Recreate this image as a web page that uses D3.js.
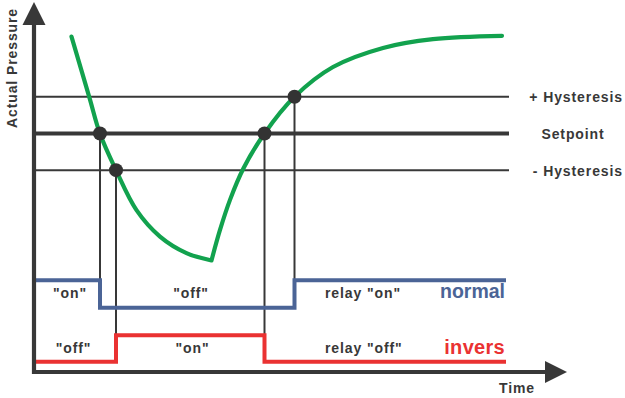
<!DOCTYPE html>
<html>
<head>
<meta charset="utf-8">
<script src="https://cdn.jsdelivr.net/npm/d3@7"></script>
<style>
  html, body { margin: 0; padding: 0; background: #fff; }
  svg { display: block; }
  text { font-family: "Liberation Sans", Arial, Helvetica, sans-serif; font-weight: bold; }
</style>
</head>
<body>
<div id="chart"></div>
<script>
// ---------- data ----------
const setpoint = 6.5;
const hysteresis = 1.0;
const refLevels = [setpoint + hysteresis, setpoint, setpoint - hysteresis];
const refLabels = ["+ Hysteresis", "Setpoint", "- Hysteresis"];

// actual pressure curve (time, pressure), falling part and rising part
const fallTime = [7.5, 11.1, 13.2, 16.4, 20.5, 25.2, 30.5, 35.5];
const fallPressure = [9.14, 7.47, 6.49, 5.50, 4.41, 3.69, 3.24, 3.04];
const riseTime = [35.5, 37.2, 39.2, 41.9, 46.1, 52.1, 59.8, 69.8, 79.8, 93.6];
const risePressure = [3.04, 3.87, 4.69, 5.55, 6.50, 7.50, 8.31, 8.83, 9.07, 9.16];

// switching points (curve crossing the thresholds)
const crossTime = [13.2, 16.4, 46.1, 52.1];
const crossPressure = [6.5, 5.5, 6.5, 7.5];

// relay outputs
const relayEndTime = 94.4;
const normalSwitchTime = [0, 13.2, 52.1];
const normalState = [1, 0, 1];
const inversSwitchTime = [0, 16.4, 46.1];
const inversState = [0, 1, 0];
const normalLevels = [1.75, 2.5];   // off, on
const inversLevels = [0.28, 1.0];   // off, on

// state labels
const normalLabelText = ['"on"', '"off"', 'relay "on"'];
const normalLabelTime = [7.2, 31.4, 58.2];
const inversLabelText = ['"off"', '"on"', 'relay "off"'];
const inversLabelTime = [7.9, 31.7, 58.2];

// ---------- drawing ----------
const W = 625, H = 398;
const dark = "#383838";
const green = "#12a24e";
const blue = "#4b6496";
const red = "#ea3232";

const svg = d3.select("#chart").append("svg").attr("width", W).attr("height", H);
const x = d3.scaleLinear().domain([0, 100]).range([34, 534]);
const y = d3.scaleLinear().domain([0, 10]).range([372, 5]);

// reference lines
const refEnd = 95;
svg.selectAll("line.ref").data(refLevels).join("line")
  .attr("class", "ref")
  .attr("x1", x(0)).attr("x2", x(refEnd))
  .attr("y1", d => y(d)).attr("y2", d => y(d))
  .attr("stroke", dark)
  .attr("stroke-width", (d, i) => i === 1 ? 4 : 2);

// vertical guide lines from crossing points down to relay step
const guideBottom = [normalLevels[1], inversLevels[1], inversLevels[1], normalLevels[1]];
svg.selectAll("line.guide").data(crossTime).join("line")
  .attr("class", "guide")
  .attr("x1", d => x(d)).attr("x2", d => x(d))
  .attr("y1", (d, i) => y(crossPressure[i]))
  .attr("y2", (d, i) => y(guideBottom[i]))
  .attr("stroke", dark).attr("stroke-width", 2);

// relay lines
function stepData(times, states, levels) {
  const pts = times.map((t, i) => [t, levels[states[i]]]);
  pts.push([relayEndTime, levels[states[states.length - 1]]]);
  return pts;
}
const stepLine = d3.line().x(d => x(d[0])).y(d => y(d[1])).curve(d3.curveStepAfter);
svg.append("path")
  .attr("d", stepLine(stepData(normalSwitchTime, normalState, normalLevels)))
  .attr("fill", "none").attr("stroke", blue).attr("stroke-width", 4);
svg.append("path")
  .attr("d", stepLine(stepData(inversSwitchTime, inversState, inversLevels)))
  .attr("fill", "none").attr("stroke", red).attr("stroke-width", 4);

// pressure curve
const curveLine = d3.line().x(d => x(d[0])).y(d => y(d[1])).curve(d3.curveCatmullRom.alpha(0.5));
const fallPts = fallTime.map((t, i) => [t, fallPressure[i]]);
const risePts = riseTime.map((t, i) => [t, risePressure[i]]);
svg.append("path")
  .attr("d", curveLine(fallPts) + curveLine(risePts))
  .attr("fill", "none").attr("stroke", green).attr("stroke-width", 4.2)
  .attr("stroke-linecap", "round").attr("stroke-linejoin", "round");

// crossing dots
svg.selectAll("circle.cross").data(crossTime).join("circle")
  .attr("class", "cross")
  .attr("cx", d => x(d)).attr("cy", (d, i) => y(crossPressure[i]))
  .attr("r", 7).attr("fill", "#333");

// axes
svg.append("line").attr("x1", x(0)).attr("x2", x(0)).attr("y1", y(10) + 18).attr("y2", y(0) + 2)
  .attr("stroke", dark).attr("stroke-width", 4.2);
svg.append("path")
  .attr("d", `M${x(0) - 11.5},${y(10) + 20}L${x(0) + 11.5},${y(10) + 20}L${x(0)},${y(10) - 3}Z`)
  .attr("fill", dark);
svg.append("line").attr("x1", x(0) - 2).attr("x2", 547).attr("y1", y(0)).attr("y2", y(0))
  .attr("stroke", dark).attr("stroke-width", 4.2);
svg.append("path")
  .attr("d", `M545,${y(0) - 11}L545,${y(0) + 11}L567,${y(0)}Z`)
  .attr("fill", dark);

// axis titles
svg.append("text")
  .attr("transform", `translate(17,${y(10) + 63}) rotate(-90)`)
  .attr("text-anchor", "middle").attr("font-size", 14).attr("letter-spacing", 0.9)
  .attr("fill", dark).text("Actual Pressure");
svg.append("text")
  .attr("x", 517).attr("y", 393).attr("text-anchor", "middle")
  .attr("font-size", 14).attr("letter-spacing", 0.9).attr("fill", dark).text("Time");

// reference labels
const refAnchor = ["end", "middle", "end"];
const refLabelX = [623, 573, 623];
svg.selectAll("text.ref").data(refLabels).join("text")
  .attr("class", "ref")
  .attr("x", (d, i) => refLabelX[i])
  .attr("y", (d, i) => y(refLevels[i]) + 5.5)
  .attr("text-anchor", (d, i) => refAnchor[i])
  .attr("font-size", 14).attr("letter-spacing", 0.9).attr("fill", dark)
  .text(d => d);

// state labels
function drawLabels(texts, times, levels) {
  const mid = (levels[0] + levels[1]) / 2;
  svg.selectAll(null).data(texts).join("text")
    .attr("x", (d, i) => x(times[i]))
    .attr("y", y(mid) + 4)
    .attr("text-anchor", (d, i) => i === 2 ? "start" : "middle")
    .attr("font-size", 14).attr("letter-spacing", 0.9).attr("fill", dark)
    .text(d => d);
}
drawLabels(normalLabelText, normalLabelTime, normalLevels);
drawLabels(inversLabelText, inversLabelTime, inversLevels);

// relay mode names
svg.append("text").attr("x", x(relayEndTime) - 1).attr("y", y((normalLevels[0] + normalLevels[1]) / 2) + 3.5)
  .attr("text-anchor", "end").attr("font-size", 19.5).attr("fill", blue).text("normal");
svg.append("text").attr("x", x(relayEndTime) - 1).attr("y", y((inversLevels[0] + inversLevels[1]) / 2) + 5)
  .attr("text-anchor", "end").attr("font-size", 20).attr("letter-spacing", 0.3).attr("fill", red).text("invers");
</script>
</body>
</html>
